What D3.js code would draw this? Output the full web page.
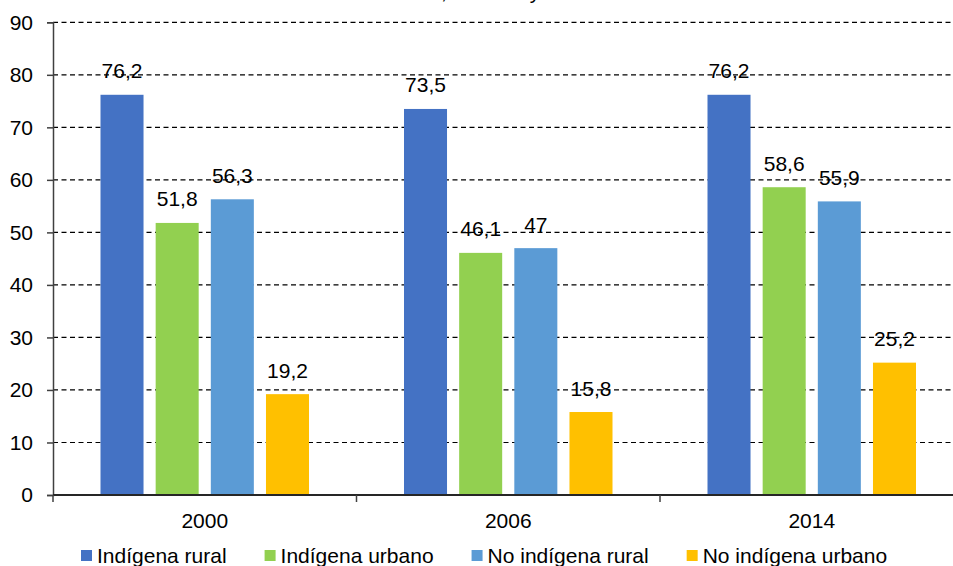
<!DOCTYPE html>
<html>
<head>
<meta charset="utf-8">
<script src="https://cdn.jsdelivr.net/npm/d3@7"></script>
<style>
  html, body { margin: 0; padding: 0; background: #fff; }
  svg { display: block; font-family: Arial, "Liberation Sans", sans-serif; }
</style>
</head>
<body>
<svg id="chart" width="953" height="566"></svg>
<script>
// ---- data ----
const years = ["2000", "2006", "2014"];
const seriesNames = ["Indígena rural", "Indígena urbano", "No indígena rural", "No indígena urbano"];
const indigenaRural = [76.2, 73.5, 76.2];
const indigenaUrbano = [51.8, 46.1, 58.6];
const noIndigenaRural = [56.3, 47, 55.9];
const noIndigenaUrbano = [19.2, 15.8, 25.2];
const yTicks = [0, 10, 20, 30, 40, 50, 60, 70, 80, 90];
const colors = ["#4472C4", "#92D050", "#5B9BD5", "#FFC000"];
const titleText = "Bolivia: tasa de incidencia, en área y condición étnica";

const seriesValues = [indigenaRural, indigenaUrbano, noIndigenaRural, noIndigenaUrbano];
const table = years.map((yr, i) => ({
  year: yr,
  values: seriesNames.map((s, k) => ({ series: s, idx: k, value: seriesValues[k][i] }))
}));

const svg = d3.select("#chart");
const fmt = v => String(v).replace(".", ",");

const x0 = d3.scaleBand().domain(years).range([53, 963.5]).paddingInner(0).paddingOuter(0);
const x1 = d3.scaleBand().domain(seriesNames).range([47.5, x0.bandwidth() - 47.5]).paddingInner(0.22).paddingOuter(0);
const y = d3.scaleLinear().domain([0, 90]).range([495, 22.3]);

// title (cut off at top)
const title = svg.append("text")
  .attr("y", -1)
  .attr("font-size", 21)
  .attr("fill", "#000")
  .text(titleText);
const ci = titleText.indexOf(",");
const cpos = title.node().getStartPositionOfChar(ci).x;
title.attr("x", 441 - cpos);

// gridlines
svg.append("g").selectAll("line")
  .data(yTicks.filter(t => t > 0))
  .join("line")
  .attr("x1", 53).attr("x2", 953)
  .attr("y1", d => y(d)).attr("y2", d => y(d))
  .attr("stroke", "#000")
  .attr("stroke-width", 1.2)
  .attr("stroke-dasharray", "5,3.5");

// bars
const groups = svg.append("g").selectAll("g")
  .data(table)
  .join("g")
  .attr("transform", d => `translate(${x0(d.year)},0)`);

groups.selectAll("rect")
  .data(d => d.values)
  .join("rect")
  .attr("x", d => x1(d.series))
  .attr("width", x1.bandwidth())
  .attr("y", d => y(d.value))
  .attr("height", d => y(0) - y(d.value))
  .attr("fill", d => colors[d.idx]);

groups.selectAll("text")
  .data(d => d.values)
  .join("text")
  .attr("x", d => x1(d.series) + x1.bandwidth() / 2)
  .attr("y", d => y(d.value) - 16.5)
  .attr("text-anchor", "middle")
  .attr("font-size", 21)
  .attr("fill", "#000")
  .text(d => fmt(d.value));

// y axis
const yAxis = svg.append("g")
  .attr("transform", "translate(53,0)")
  .call(d3.axisLeft(y).tickValues(yTicks).tickSize(6).tickPadding(14).tickFormat(d => d));
yAxis.select(".domain").attr("stroke", "#404040").attr("stroke-width", 1.5);
yAxis.selectAll(".tick line").attr("stroke", "#404040").attr("stroke-width", 1.5);
yAxis.selectAll(".tick text").attr("font-size", 21).attr("fill", "#000").attr("font-family", "Arial, 'Liberation Sans', sans-serif");

// x axis
const xAxis = svg.append("g").attr("transform", `translate(0,${y(0)})`);
xAxis.append("line")
  .attr("x1", 53).attr("x2", 953)
  .attr("stroke", "#262626").attr("stroke-width", 1.8);
const boundaries = years.map(yr => x0(yr)).concat([x0(years[years.length - 1]) + x0.bandwidth()]);
xAxis.selectAll("line.tk")
  .data(boundaries)
  .join("line")
  .attr("class", "tk")
  .attr("x1", d => d).attr("x2", d => d)
  .attr("y1", 0).attr("y2", 7)
  .attr("stroke", "#404040").attr("stroke-width", 1.5);
xAxis.selectAll("text")
  .data(years)
  .join("text")
  .attr("x", d => x0(d) + x0.bandwidth() / 2)
  .attr("y", 33)
  .attr("text-anchor", "middle")
  .attr("font-size", 21)
  .attr("fill", "#000")
  .text(d => d);

// legend
const legend = svg.append("g");
let lx = 81;
seriesNames.forEach((name, k) => {
  legend.append("rect")
    .attr("x", lx).attr("y", 550)
    .attr("width", 11).attr("height", 11)
    .attr("fill", colors[k]);
  const t = legend.append("text")
    .attr("x", lx + 16).attr("y", 563)
    .attr("font-size", 21)
    .attr("fill", "#000")
    .text(name);
  lx += 16 + t.node().getComputedTextLength() + 38;
});
</script>
</body>
</html>
